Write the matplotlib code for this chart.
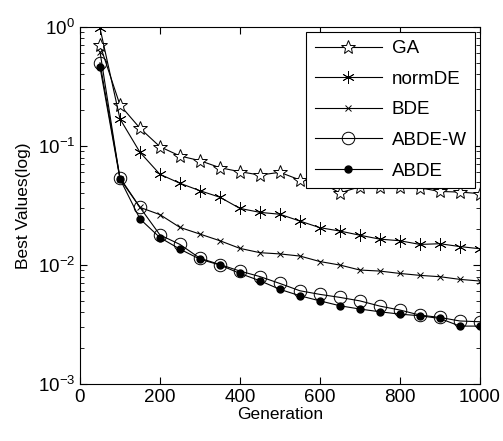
import matplotlib
matplotlib.use("Agg")
import matplotlib.pyplot as plt
import numpy as np

plt.rcParams["font.family"] = ["Liberation Sans", "DejaVu Sans"]
plt.rcParams["mathtext.fontset"] = "custom"
plt.rcParams["mathtext.rm"] = "Liberation Sans"
plt.rcParams["mathtext.it"] = "Liberation Sans:italic"

generations = [50, 100, 150, 200, 250, 300, 350, 400, 450, 500,
               550, 600, 650, 700, 750, 800, 850, 900, 950, 1000]

ga = [0.706, 0.221, 0.141, 0.0986, 0.0824, 0.0753, 0.0657, 0.0608, 0.057, 0.0601,
      0.0518, 0.050, 0.0403, 0.0455, 0.0448, 0.0448, 0.0445, 0.0415, 0.041, 0.0398]
norm_de = [0.98, 0.169, 0.0885, 0.0578, 0.0486, 0.0421, 0.0371, 0.0299, 0.0277, 0.0267,
           0.0234, 0.0206, 0.0193, 0.0178, 0.0165, 0.016, 0.0149, 0.0151, 0.0143, 0.0137]
bde = [0.62, 0.053, 0.0305, 0.0265, 0.0207, 0.0182, 0.016, 0.0138, 0.0127, 0.0124,
       0.0119, 0.0107, 0.0100, 0.00908, 0.0089, 0.0085, 0.00819, 0.00798, 0.00758, 0.00734]
abde_w = [0.50, 0.0542, 0.0305, 0.0179, 0.0149, 0.0114, 0.0101, 0.0089, 0.0080, 0.0070,
          0.00608, 0.00567, 0.00535, 0.0050, 0.00452, 0.00419, 0.0038, 0.00363, 0.00339, 0.00334]
abde = [0.46, 0.0528, 0.0244, 0.017, 0.0136, 0.0112, 0.0100, 0.0085, 0.00738, 0.00625,
        0.00552, 0.0050, 0.00455, 0.00427, 0.00405, 0.00387, 0.00375, 0.00356, 0.00307, 0.00307]

fig = plt.figure(figsize=(5.03, 4.41), dpi=100)
ax = fig.add_axes([0.159, 0.129, 0.795, 0.81])

lw = 0.8
ax.plot(generations, ga, "-", color="black", lw=lw, marker="*", ms=10,
        mfc="white", mec="black", mew=0.7, label="GA")
ax.plot(generations, norm_de, "-", color="black", lw=lw, marker=(6, 2, 0), ms=9,
        mec="black", mew=0.6, label="normDE")
ax.plot(generations, bde, "-", color="black", lw=lw, marker="x", ms=4.5,
        mec="black", mew=0.7, label="BDE")
ax.plot(generations, abde_w, "-", color="black", lw=lw, marker="o", ms=9,
        mfc="none", mec="black", mew=0.7, label="ABDE-W")
ax.plot(generations, abde, "-", color="black", lw=lw, marker="o", ms=5,
        mfc="black", mec="black", label="ABDE")

ax.set_yscale("log")
ax.set_xlim(0, 1000)
ax.set_ylim(1e-3, 1)
ax.set_xticks([0, 200, 400, 600, 800, 1000])
ax.tick_params(which="both", direction="in", top=True, right=True, labelsize=13.5)
ax.tick_params(which="major", length=5)
ax.tick_params(which="minor", length=3)
ax.set_xlabel("Generation", fontsize=12.5, labelpad=1)
ax.set_ylabel("Best Values(log)", fontsize=12.5, labelpad=5)

leg = ax.legend(loc="upper right", fontsize=13.5, frameon=True, fancybox=False,
                edgecolor="black", framealpha=1, handlelength=3.6,
                labelspacing=0.72, borderaxespad=0.25, borderpad=0.45,
                handletextpad=0.5)
leg.get_frame().set_linewidth(0.8)

plt.savefig("out.png", dpi=100)
